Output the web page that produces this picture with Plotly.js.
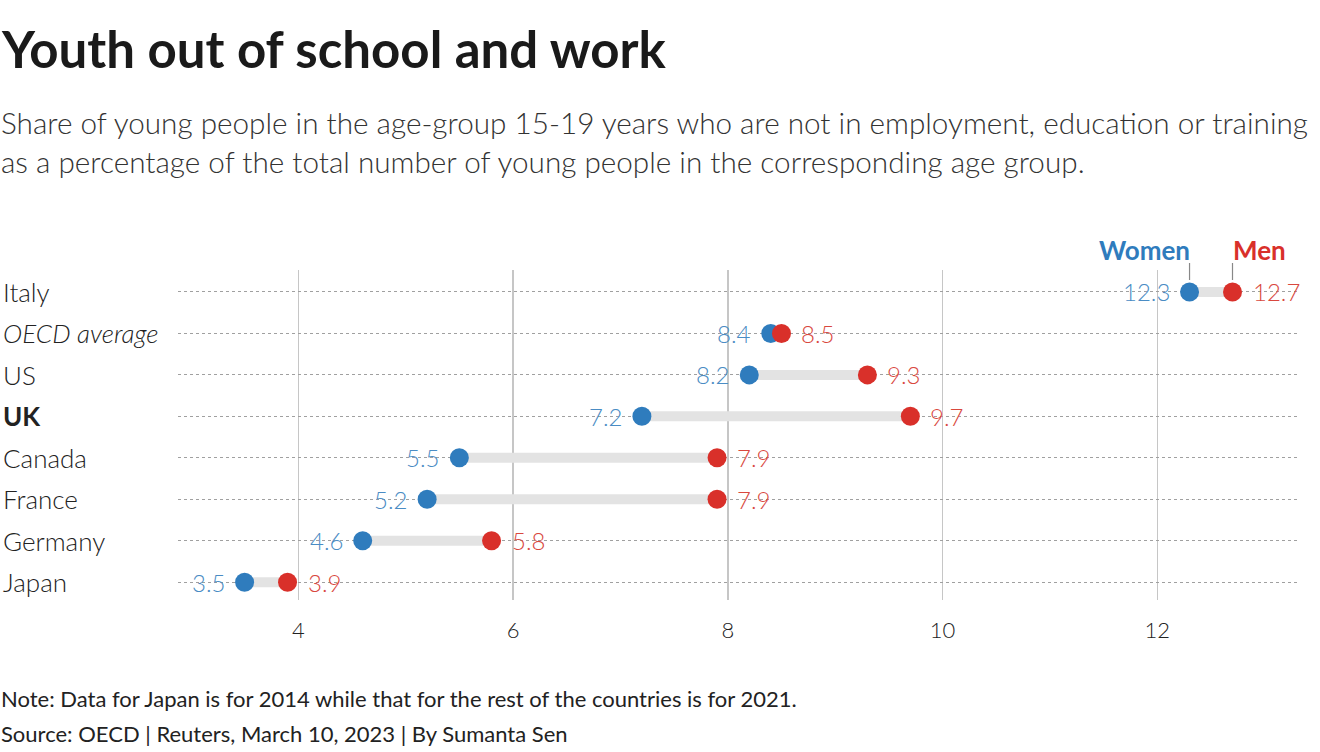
<!DOCTYPE html>
<html><head><meta charset="utf-8">
<script src="https://cdn.plot.ly/plotly-3.0.1.min.js"></script>
<style>body{margin:0;background:#fff}#c{width:1320px;height:752px}</style>
</head><body><div id="c"></div>
<script>
const countries = ["Italy","OECD average","US","UK","Canada","France","Germany","Japan"];
const labelHtml = ["Italy","<i>OECD average</i>","US","<b>UK</b>","Canada","France","Germany","Japan"];
const women = [12.3, 8.4, 8.2, 7.2, 5.5, 5.2, 4.6, 3.5];
const men   = [12.7, 8.5, 9.3, 9.7, 7.9, 7.9, 5.8, 3.9];
const xTicks = [4, 6, 8, 10, 12];

const BLUE = "#2f7cbd", RED = "#d9302a";
const BLUE_T = "#4a8cc4", RED_T = "#d9483e";
const FONT = "Lato, 'Source Sans Pro', 'Noto Sans', sans-serif";
const rows = countries.map((c,i)=>i);

const cx = [], cy = [];
rows.forEach(i=>{ cx.push(women[i], men[i], null); cy.push(i, i, null); });

const traces = [
  {x: cx, y: cy, mode: "lines", line: {color: "#e3e3e3", width: 10}, hoverinfo: "skip", showlegend: false},
  {x: women, y: rows, mode: "markers", marker: {color: BLUE, size: 19}, name: "Women", showlegend: false},
  {x: men, y: rows, mode: "markers", marker: {color: RED, size: 19}, name: "Men", showlegend: false}
];

const L = 178, R = 1298, T = 270, B = 600;
const px = v => (v - L) / (R - L);
const py = v => (B - v) / (B - T);

const ann = [];
ann.push({text: "<b>Youth out of school and work</b>", xref: "paper", yref: "paper", x: px(-1), y: py(48), xanchor: "left", yanchor: "middle", showarrow: false, font: {size: 51, color: "#1a1a1a", family: FONT}});
ann.push({text: "Share of young people in the age-group 15-19 years who are not in employment, education or training", xref: "paper", yref: "paper", x: px(-1), y: py(122), xanchor: "left", yanchor: "middle", showarrow: false, font: {size: 29.7, color: "#333", family: FONT, weight: 300}});
ann.push({text: "as a percentage of the total number of young people in the corresponding age group.", xref: "paper", yref: "paper", x: px(-1), y: py(162), xanchor: "left", yanchor: "middle", showarrow: false, font: {size: 29.7, color: "#333", family: FONT, weight: 300}});
ann.push({text: "Note: Data for Japan is for 2014 while that for the rest of the countries is for 2021.", xref: "paper", yref: "paper", x: px(-1), y: py(698), xanchor: "left", yanchor: "middle", showarrow: false, font: {size: 22, color: "#222", family: FONT}});
ann.push({text: "Source: OECD | Reuters, March 10, 2023 | By Sumanta Sen", xref: "paper", yref: "paper", x: px(-1), y: py(733), xanchor: "left", yanchor: "middle", showarrow: false, font: {size: 22, color: "#222", family: FONT}});

rows.forEach(i=>{
  ann.push({text: labelHtml[i], xref: "paper", yref: "y", x: px(1), y: i, xanchor: "left", yanchor: "middle", showarrow: false, font: {size: 26, color: "#222", family: FONT, weight: 300}});
  ann.push({text: women[i].toFixed(1), xref: "x", yref: "y", x: women[i], y: i, xanchor: "right", yanchor: "middle", xshift: -18, showarrow: false, font: {size: 24, color: BLUE_T, family: FONT, weight: 300}});
  ann.push({text: men[i].toFixed(1), xref: "x", yref: "y", x: men[i], y: i, xanchor: "left", yanchor: "middle", xshift: 18, showarrow: false, font: {size: 24, color: RED_T, family: FONT, weight: 300}});
});

ann.push({text: "<b>Women</b>", xref: "x", yref: "paper", x: women[0], y: py(250), xanchor: "right", yanchor: "middle", xshift: 2, showarrow: false, font: {size: 26, color: BLUE, family: FONT}});
ann.push({text: "<b>Men</b>", xref: "x", yref: "paper", x: men[0], y: py(250), xanchor: "left", yanchor: "middle", xshift: -2, showarrow: false, font: {size: 26, color: RED, family: FONT}});

const shapes = [
  {type: "line", xref: "x", yref: "paper", x0: women[0], x1: women[0], y0: py(263), y1: py(280), line: {color: "#888", width: 1.2}},
  {type: "line", xref: "x", yref: "paper", x0: men[0], x1: men[0], y0: py(263), y1: py(280), line: {color: "#888", width: 1.2}}
];

const layout = {
  width: 1320, height: 752,
  margin: {l: L, r: 1320 - R, t: T, b: 752 - B},
  paper_bgcolor: "#fff", plot_bgcolor: "#fff",
  font: {family: FONT},
  showlegend: false,
  xaxis: {range: [2.88, 13.31], tickvals: xTicks, ticktext: xTicks.map(String), showgrid: true, gridcolor: "#c6c6c6", gridwidth: 1.5, zeroline: false, showline: false, ticks: "", ticklabelstandoff: 15, tickfont: {size: 22, color: "#222", family: FONT, weight: 300}, fixedrange: true},
  yaxis: {range: [7.43, -0.53], tickvals: rows, showticklabels: false, showgrid: true, gridcolor: "#a0a0a0", gridwidth: 1, griddash: "dot", zeroline: false, showline: false, ticks: "", fixedrange: true},
  annotations: ann,
  shapes: shapes
};

Plotly.newPlot("c", traces, layout, {displayModeBar: false, staticPlot: true});
</script></body></html>
